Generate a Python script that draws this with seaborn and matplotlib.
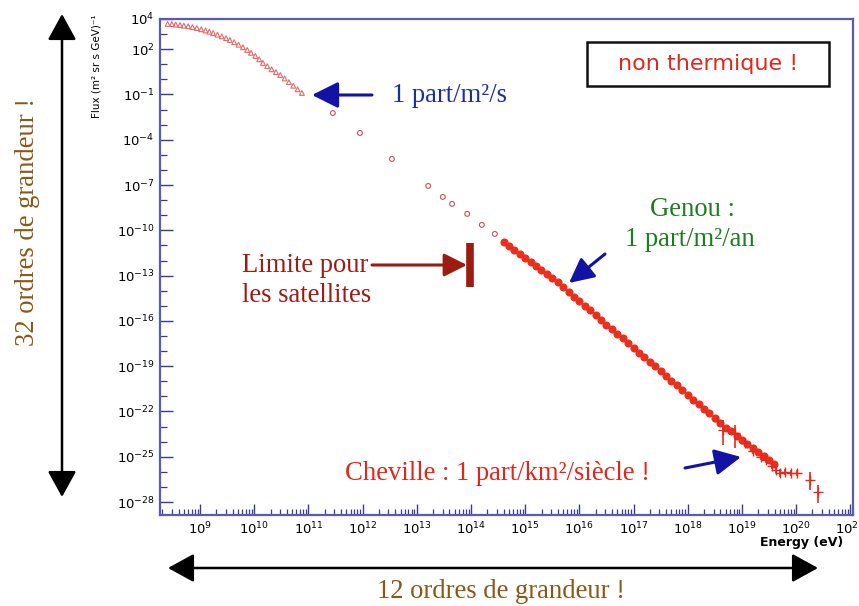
import numpy as np
import pandas as pd
import matplotlib
matplotlib.use("Agg")
import matplotlib.pyplot as plt
import seaborn as sns
from matplotlib.patches import FancyArrowPatch, Rectangle
from matplotlib.lines import Line2D
from matplotlib.ticker import FixedLocator, FuncFormatter, LogLocator, NullFormatter

# ---------------- data (log10 values) ----------------
low_logE = [8.40, 8.48, 8.55, 8.63, 8.70, 8.78, 8.86, 8.94, 9.02, 9.10, 9.17,
            9.24, 9.32, 9.40, 9.48, 9.55, 9.63, 9.71, 9.79, 9.87, 9.94, 10.02,
            10.09, 10.16, 10.24, 10.32, 10.40, 10.48, 10.56, 10.64, 10.72,
            10.80, 10.88]
low_logF = [3.67, 3.66, 3.63, 3.60, 3.56, 3.52, 3.46, 3.40, 3.32, 3.24, 3.16,
            3.07, 2.96, 2.85, 2.73, 2.61, 2.46, 2.30, 2.13, 1.95, 1.76, 1.55,
            1.33, 1.09, 0.88, 0.67, 0.48, 0.29, 0.06, -0.18, -0.42, -0.66,
            -0.90]

mid_logE = [11.45, 11.95, 12.54, 13.21, 13.48, 13.65, 13.93, 14.20, 14.44]
mid_logF = [-2.23, -3.55, -5.27, -7.06, -7.79, -8.25, -8.91, -9.64, -10.24]

dense_logE = [14.6, 14.7, 14.8, 14.9, 15.0, 15.1, 15.2, 15.3, 15.4, 15.5, 15.6,
              15.7, 15.8, 15.9, 16.0, 16.1, 16.2, 16.3, 16.4, 16.5, 16.6, 16.7,
              16.8, 16.9, 17.0, 17.1, 17.2, 17.3, 17.4, 17.5, 17.6, 17.7, 17.8,
              17.9, 18.0, 18.1, 18.2, 18.3, 18.4, 18.5, 18.6, 18.7, 18.8, 18.9,
              19.0, 19.1, 19.2, 19.3, 19.4, 19.5, 19.6]
dense_logF = [-10.75, -11.03, -11.28, -11.57, -11.83, -12.11, -12.36, -12.65,
              -12.90, -13.19, -13.45, -13.77, -14.06, -14.39, -14.68, -15.01,
              -15.30, -15.63, -15.92, -16.25, -16.54, -16.87, -17.16, -17.49,
              -17.78, -18.11, -18.40, -18.73, -19.02, -19.35, -19.64, -19.97,
              -20.26, -20.59, -20.88, -21.21, -21.50, -21.83, -22.12, -22.45,
              -22.74, -23.07, -23.32, -23.62, -23.86, -24.16, -24.40, -24.70,
              -24.94, -25.24, -25.48]

high_logE = [18.55, 18.65, 18.87, 19.05, 19.20, 19.35, 19.45, 19.55, 19.62,
             19.70, 19.80, 19.90, 20.01, 20.25, 20.40]
high_logF = [-22.60, -23.22, -23.40, -24.10, -24.60, -25.00, -25.20, -25.60,
             -25.90, -26.07, -26.00, -26.10, -26.07, -26.53, -27.32]
high_lo = [-22.85, -24.22, -24.40, -24.30, -24.80, -25.20, -25.40, -25.80,
           -26.10, -26.35, -26.20, -26.30, -26.30, -27.20, -28.05]
high_hi = [-22.40, -22.56, -22.90, -23.90, -24.40, -24.80, -25.00, -25.40,
           -25.70, -25.80, -25.80, -25.90, -25.85, -26.00, -26.86]

yticks_major = [4, 2, -1, -4, -7, -10, -13, -16, -19, -22, -25, -28]
xticks_major = list(range(9, 22))

# ---------------- figure ----------------
sns.set_theme(style="white")
plt.rcParams["font.family"] = ["DejaVu Sans"]

W, H = 859, 606
fig = plt.figure(figsize=(W / 100, H / 100), dpi=100)
fig.patch.set_facecolor("white")
ax = fig.add_axes([160 / W, 1 - 515 / H, 693 / W, 496 / H])
ax.set_facecolor("white")

df_low = pd.DataFrame({"E": np.power(10.0, low_logE), "F": np.power(10.0, low_logF)})
df_mid = pd.DataFrame({"E": np.power(10.0, mid_logE), "F": np.power(10.0, mid_logF)})
df_dense = pd.DataFrame({"E": np.power(10.0, dense_logE), "F": np.power(10.0, dense_logF)})
df_high = pd.DataFrame({"E": np.power(10.0, high_logE), "F": np.power(10.0, high_logF)})

sns.scatterplot(data=df_low, x="E", y="F", ax=ax, marker="^", s=12,
                facecolor="none", edgecolor="#e66a6a", linewidth=0.8, legend=False)
sns.scatterplot(data=df_mid, x="E", y="F", ax=ax, marker="o", s=12,
                facecolor="none", edgecolor="#cc5050", linewidth=0.8, legend=False)
sns.scatterplot(data=df_dense, x="E", y="F", ax=ax, marker="o", s=34,
                color="#e8301f", linewidth=0, legend=False)

F = np.power(10.0, high_logF)
yerr = np.vstack([F - np.power(10.0, high_lo), np.power(10.0, high_hi) - F])
ax.errorbar(df_high["E"], df_high["F"], yerr=yerr, fmt="+", color="#e02a1e",
            ms=7, elinewidth=1.2, capsize=0)

ax.set_xscale("log")
ax.set_yscale("log")
ax.set_xlim(10 ** 8.26, 10 ** 21.05)
ax.set_ylim(10 ** -28.86, 10 ** 4)

fmt = FuncFormatter(lambda v, p: r"$\mathdefault{10^{%d}}$" % int(round(np.log10(v))))
ax.yaxis.set_major_locator(FixedLocator([10.0 ** k for k in yticks_major]))
ax.yaxis.set_minor_locator(FixedLocator([10.0 ** k for k in range(-28, 4)]))
ax.yaxis.set_major_formatter(fmt)
ax.yaxis.set_minor_formatter(NullFormatter())
ax.xaxis.set_major_locator(FixedLocator([10.0 ** k for k in xticks_major]))
ax.xaxis.set_minor_locator(LogLocator(base=10, subs=range(2, 10), numticks=100))
ax.xaxis.set_major_formatter(fmt)
ax.xaxis.set_minor_formatter(NullFormatter())

frame = "#5a5ab8"
for s in ax.spines.values():
    s.set_visible(True)
    s.set_color(frame)
    s.set_linewidth(1.6)
ax.tick_params(which="both", direction="in", color="#3a3a90", labelcolor="black",
               top=False, right=False, left=True, bottom=True)
ax.tick_params(which="major", length=9, width=1.0, labelsize=9.5, pad=4)
ax.tick_params(which="minor", length=5, width=0.9)
ax.tick_params(axis="x", which="major", length=8)
ax.tick_params(axis="x", which="minor", length=4)

ax.set_ylabel("Flux (m² sr s GeV)⁻¹", loc="top", fontsize=7.5, color="black")
ax.yaxis.set_label_coords(-0.085, 1.01)
ax.set_xlabel("Energy (eV)", loc="right", fontsize=9, fontweight="bold", color="black")
ax.xaxis.set_label_coords(0.986, -0.042)


# ---------------- annotations ----------------
def P(x, y):
    return (x / W, 1 - y / H)


def arrow(p0, p1, color, style, ms, lw):
    a = FancyArrowPatch(P(*p0), P(*p1), transform=fig.transFigure,
                        arrowstyle=style, mutation_scale=ms, color=color,
                        lw=lw, shrinkA=0, shrinkB=0)
    fig.add_artist(a)


serif = "Liberation Serif"
brown = "#8a5716"
blue_t = "#1f2da0"
blue_a = "#1212a6"
green = "#1e7d1e"
dred = "#9c1c12"
red = "#e4261a"
TS = 19.2

fig.text(*P(28, 222), "32 ordres de grandeur !", rotation=90, ha="center",
         va="center", fontsize=TS, family=serif, color=brown)
arrow((62, 497), (62, 14), "black", "<|-|>,head_length=1.0,head_width=0.55", 16, 1.8)

fig.text(*P(501, 592), "12 ordres de grandeur !", ha="center", va="center",
         fontsize=TS, family=serif, color=brown)
arrow((168, 568), (818, 568), "black", "<|-|>,head_length=1.0,head_width=0.55", 16, 1.8)

fig.text(*P(392, 95), "1 part/m²/s", ha="left", va="center", fontsize=TS,
         family=serif, color=blue_t)
arrow((372, 95), (312, 95), blue_a, "-|>,head_length=1.0,head_width=0.5", 16, 2.2)

fig.text(*P(692, 210), "Genou :", ha="center", va="center", fontsize=TS,
         family=serif, color=green)
fig.text(*P(690, 240), "1 part/m²/an", ha="center", va="center", fontsize=TS,
         family=serif, color=green)
arrow((605, 254), (569, 283), blue_a, "-|>,head_length=1.0,head_width=0.5", 15, 2.2)

fig.text(*P(242, 265), "Limite pour", ha="left", va="center", fontsize=TS,
         family=serif, color=dred)
fig.text(*P(242, 295), "les satellites", ha="left", va="center", fontsize=TS,
         family=serif, color=dred)
arrow((372, 265), (467, 265), dred, "-|>,head_length=1.0,head_width=0.5", 14, 2.2)
fig.add_artist(Line2D([470 / W, 470 / W], [1 - 243 / H, 1 - 287 / H],
                      transform=fig.transFigure, color=dred, lw=5.5,
                      solid_capstyle="butt"))

fig.text(*P(345, 473), "Cheville : 1 part/km²/siècle !", ha="left", va="center",
         fontsize=TS, family=serif, color=red)
arrow((685, 468), (741, 457), blue_a, "-|>,head_length=1.0,head_width=0.5", 16, 2.2)

x0, y0 = P(587, 86)
fig.add_artist(Rectangle((x0, y0), 242 / W, 44 / H, transform=fig.transFigure,
                         fill=False, ec="#111111", lw=1.8))
fig.text(*P(708, 64), "non thermique !", ha="center", va="center", fontsize=16,
         family="DejaVu Sans", color=red)

fig.savefig("out.png", dpi=100, facecolor="white")
